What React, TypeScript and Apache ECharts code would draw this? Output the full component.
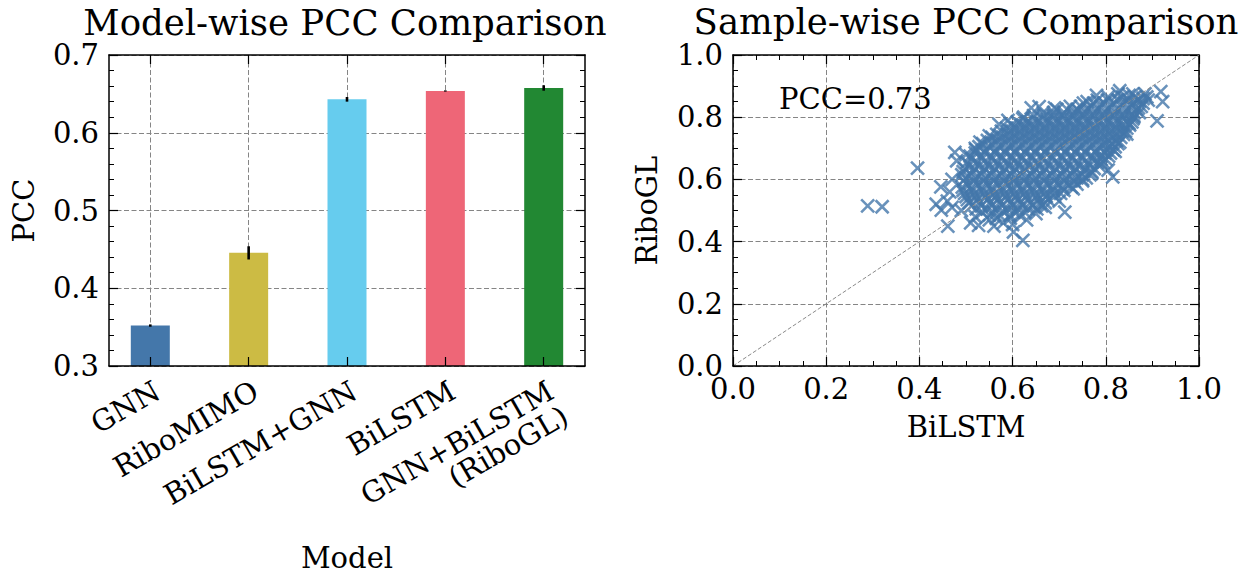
import React, { useEffect, useRef } from "react";
import * as echarts from "echarts";

const FONT = "'DejaVu Serif', serif";

// ---- Left panel: model-wise PCC ----
const modelNames = ["GNN", "RiboMIMO", "BiLSTM+GNN", "BiLSTM", "GNN+BiLSTM\n(RiboGL)"];
const modelPcc = [0.352, 0.4455, 0.643, 0.6537, 0.6576];
const modelErr = [0.0015, 0.0085, 0.003, 0.0008, 0.0035];
const barColors = ["#4477AA", "#CCBB44", "#66CCEE", "#EE6677", "#228833"];
const modelPositions = [0, 1, 2, 3, 4];

// ---- Right panel: sample-wise scatter (BiLSTM vs RiboGL) ----
// dense core, read row by row: [RiboGL value, BiLSTM values]
const cloudRows: [number, number[]][] = [
  [0.475, [0.565, 0.595]],
  [0.485, [0.55, 0.572, 0.594, 0.615]],
  [0.495, [0.535, 0.558, 0.581, 0.604, 0.626]],
  [0.505, [0.522, 0.545, 0.567, 0.59, 0.612, 0.634, 0.652]],
  [0.515, [0.512, 0.533, 0.556, 0.578, 0.601, 0.622, 0.644, 0.662]],
  [0.525, [0.507, 0.528, 0.551, 0.572, 0.595, 0.616, 0.638, 0.659, 0.67]],
  [0.535, [0.503, 0.524, 0.546, 0.567, 0.589, 0.611, 0.632, 0.654, 0.676]],
  [0.545, [0.5, 0.521, 0.543, 0.564, 0.586, 0.607, 0.629, 0.651, 0.672, 0.69]],
  [0.555, [0.497, 0.518, 0.539, 0.561, 0.583, 0.604, 0.626, 0.648, 0.669, 0.691, 0.703]],
  [0.565, [0.494, 0.515, 0.537, 0.558, 0.58, 0.601, 0.623, 0.645, 0.666, 0.688, 0.71]],
  [0.575, [0.492, 0.512, 0.534, 0.556, 0.577, 0.599, 0.621, 0.642, 0.664, 0.686, 0.707, 0.726]],
  [0.585, [0.502, 0.523, 0.545, 0.567, 0.588, 0.61, 0.632, 0.653, 0.675, 0.697, 0.718, 0.738]],
  [0.595, [0.494, 0.516, 0.537, 0.559, 0.581, 0.602, 0.624, 0.645, 0.667, 0.689, 0.71, 0.732, 0.75]],
  [0.605, [0.5, 0.522, 0.543, 0.565, 0.587, 0.608, 0.63, 0.651, 0.673, 0.695, 0.716, 0.738, 0.758]],
  [0.615, [0.491, 0.511, 0.533, 0.554, 0.576, 0.598, 0.619, 0.641, 0.662, 0.684, 0.706, 0.727, 0.749, 0.766]],
  [0.625, [0.494, 0.515, 0.537, 0.558, 0.58, 0.602, 0.623, 0.645, 0.666, 0.688, 0.71, 0.731, 0.753, 0.77]],
  [0.635, [0.497, 0.518, 0.54, 0.561, 0.583, 0.605, 0.626, 0.648, 0.669, 0.691, 0.713, 0.734, 0.756, 0.775]],
  [0.645, [0.507, 0.529, 0.55, 0.572, 0.594, 0.615, 0.637, 0.658, 0.68, 0.702, 0.723, 0.745, 0.766, 0.785]],
  [0.655, [0.502, 0.523, 0.545, 0.566, 0.588, 0.61, 0.631, 0.653, 0.674, 0.696, 0.718, 0.739, 0.761, 0.782, 0.795]],
  [0.665, [0.512, 0.534, 0.556, 0.577, 0.599, 0.62, 0.642, 0.664, 0.685, 0.707, 0.728, 0.75, 0.772, 0.79, 0.8]],
  [0.675, [0.509, 0.531, 0.552, 0.574, 0.596, 0.617, 0.639, 0.66, 0.682, 0.704, 0.725, 0.747, 0.768, 0.79, 0.806]],
  [0.685, [0.52, 0.541, 0.563, 0.585, 0.606, 0.628, 0.649, 0.671, 0.693, 0.714, 0.736, 0.757, 0.779, 0.798, 0.81]],
  [0.695, [0.521, 0.542, 0.564, 0.585, 0.607, 0.629, 0.65, 0.672, 0.693, 0.715, 0.737, 0.758, 0.78, 0.801, 0.816]],
  [0.705, [0.528, 0.55, 0.571, 0.593, 0.614, 0.636, 0.658, 0.679, 0.701, 0.722, 0.744, 0.766, 0.787, 0.806, 0.82]],
  [0.715, [0.536, 0.557, 0.579, 0.6, 0.622, 0.644, 0.665, 0.687, 0.708, 0.73, 0.752, 0.773, 0.795, 0.813, 0.826]],
  [0.725, [0.546, 0.567, 0.589, 0.611, 0.632, 0.654, 0.675, 0.697, 0.719, 0.74, 0.762, 0.783, 0.805, 0.823]],
  [0.735, [0.556, 0.577, 0.599, 0.62, 0.642, 0.664, 0.685, 0.707, 0.728, 0.75, 0.772, 0.793, 0.815, 0.832]],
  [0.745, [0.566, 0.588, 0.609, 0.631, 0.652, 0.674, 0.696, 0.717, 0.739, 0.76, 0.782, 0.804, 0.824, 0.838]],
  [0.755, [0.576, 0.597, 0.619, 0.64, 0.662, 0.684, 0.705, 0.727, 0.748, 0.77, 0.792, 0.813, 0.835, 0.842]],
  [0.765, [0.587, 0.608, 0.63, 0.651, 0.673, 0.695, 0.716, 0.738, 0.759, 0.781, 0.803, 0.824, 0.845]],
  [0.775, [0.598, 0.619, 0.641, 0.662, 0.684, 0.706, 0.727, 0.749, 0.77, 0.792, 0.814, 0.835, 0.851]],
  [0.785, [0.61, 0.631, 0.653, 0.675, 0.696, 0.718, 0.739, 0.761, 0.783, 0.804, 0.826, 0.846, 0.856]],
  [0.795, [0.622, 0.643, 0.665, 0.687, 0.708, 0.73, 0.751, 0.773, 0.795, 0.816, 0.838, 0.858]],
  [0.805, [0.645, 0.667, 0.688, 0.71, 0.731, 0.753, 0.775, 0.796, 0.818, 0.839, 0.86]],
  [0.815, [0.666, 0.688, 0.71, 0.731, 0.753, 0.774, 0.796, 0.818, 0.839, 0.861, 0.872]],
  [0.825, [0.695, 0.717, 0.738, 0.76, 0.782, 0.803, 0.825, 0.846, 0.866]],
  [0.835, [0.724, 0.746, 0.768, 0.789, 0.811, 0.833, 0.854, 0.876]],
  [0.845, [0.752, 0.774, 0.796, 0.817, 0.839, 0.86, 0.88]],
  [0.855, [0.782, 0.804, 0.826, 0.848, 0.869, 0.891]],
  [0.865, [0.805, 0.836, 0.862, 0.888]],
  [0.875, [0.826, 0.858, 0.884]],
];
// scattered points around the core: [BiLSTM, RiboGL]
const outliers: [number, number][] = [
  [0.289, 0.515], [0.32, 0.512], [0.396, 0.636], [0.571, 0.777], [0.622, 0.404],
  [0.602, 0.431], [0.712, 0.495], [0.527, 0.452], [0.461, 0.45], [0.446, 0.576],
  [0.476, 0.687], [0.447, 0.501], [0.83, 0.885], [0.91, 0.788], [0.918, 0.882],
  [0.922, 0.85], [0.815, 0.608], [0.805, 0.63], [0.845, 0.746], [0.741, 0.823],
  [0.657, 0.834], [0.624, 0.8], [0.88, 0.86], [0.436, 0.52], [0.46, 0.53],
  [0.465, 0.56], [0.47, 0.6], [0.48, 0.66], [0.5, 0.68], [0.52, 0.7],
  [0.53, 0.72], [0.55, 0.74], [0.59, 0.79], [0.64, 0.83], [0.69, 0.83],
  [0.76, 0.85], [0.78, 0.87], [0.85, 0.87], [0.87, 0.83], [0.86, 0.8],
  [0.85, 0.78], [0.83, 0.72], [0.82, 0.69], [0.79, 0.65], [0.77, 0.62],
  [0.75, 0.6], [0.73, 0.57], [0.7, 0.53], [0.67, 0.51], [0.65, 0.49],
  [0.63, 0.47], [0.58, 0.46], [0.55, 0.47], [0.52, 0.48], [0.49, 0.5],
  [0.47, 0.51], [0.51, 0.46], [0.6, 0.455], [0.56, 0.45],
];
const diagonal: [number, number][] = [[0, 0], [1, 1]];
const samplePccText = "PCC=0.73";

const titles = ["Model-wise PCC Comparison", "Sample-wise PCC Comparison"];

export default function App() {
  const ref = useRef<HTMLDivElement>(null);

  useEffect(() => {
    document.body.style.margin = "0";
    if (!ref.current) return;
    const chart = echarts.init(ref.current, undefined, { renderer: "svg" });

    const scatterData: [number, number][] = [];
    cloudRows.forEach(([y, xs]) => xs.forEach((x) => scatterData.push([x, y])));
    outliers.forEach((p) => scatterData.push(p));

    const tickFont = { fontFamily: FONT, fontSize: 29, color: "#000" };
    const axisLine = { show: true, onZero: false, lineStyle: { color: "#000", width: 1.5 } };
    const gridLine = { show: true, lineStyle: { color: "#858585", width: 1, type: [5, 2.5] as any } };
    const majorTick = { show: true, inside: true, length: 9, lineStyle: { color: "#000", width: 1.2 } };
    const minorTick = (n: number) => ({ show: true, splitNumber: n, length: 5, lineStyle: { color: "#000", width: 1 } });
    const fmt1 = (v: number) => v.toFixed(1);
    const titleStyle = { fontFamily: FONT, fontSize: 35.5, fontWeight: "normal", color: "#000", lineHeight: 36 };

    chart.setOption({
      animation: false,
      backgroundColor: "#fff",
      title: [
        { text: titles[0], left: 345, top: 4, padding: 0, textAlign: "center", textStyle: titleStyle },
        { text: titles[1], left: 966, top: 3, padding: 0, textAlign: "center", textStyle: titleStyle },
      ],
      grid: [
        { left: 109, top: 55, width: 476, height: 311, containLabel: false, outerBoundsMode: "none" },
        { left: 733, top: 55, width: 466, height: 311, containLabel: false, outerBoundsMode: "none" },
      ],
      xAxis: [
        {
          type: "value", gridIndex: 0, position: "bottom", min: -0.42, max: 4.42, z: 10,
          axisLine,
          axisTick: { ...majorTick, customValues: modelPositions },
          axisLabel: {
            ...tickFont, customValues: modelPositions, rotate: 30, align: "right", verticalAlign: "top", margin: 10,
            formatter: (v: number) => modelNames[Math.round(v)] ?? "",
          },
          splitLine: { show: false },
          name: "Model", nameLocation: "middle", nameGap: 177,
          nameTextStyle: { fontFamily: FONT, fontSize: 29, color: "#000", verticalAlign: "top", lineHeight: 30 },
        },
        {
          type: "value", gridIndex: 0, position: "top", min: -0.42, max: 4.42,
          axisLine,
          axisTick: { ...majorTick, customValues: modelPositions },
          axisLabel: { show: false, customValues: modelPositions },
          splitLine: gridLine,
        },
        {
          type: "value", gridIndex: 1, position: "bottom", min: 0, max: 1, interval: 0.2, z: 10,
          axisLine, axisTick: majorTick, minorTick: minorTick(4),
          axisLabel: { ...tickFont, margin: 8, formatter: fmt1 },
          splitLine: { show: false },
          name: "BiLSTM", nameLocation: "middle", nameGap: 46,
          nameTextStyle: { fontFamily: FONT, fontSize: 29, color: "#000", verticalAlign: "top" },
        },
        {
          type: "value", gridIndex: 1, position: "top", min: 0, max: 1, interval: 0.2,
          axisLine, axisTick: majorTick, minorTick: minorTick(4),
          axisLabel: { show: false },
          splitLine: gridLine,
        },
      ],
      yAxis: [
        {
          type: "value", gridIndex: 0, position: "left", min: 0.3, max: 0.7, interval: 0.1, z: 10,
          axisLine, axisTick: majorTick, minorTick: minorTick(5),
          axisLabel: { ...tickFont, margin: 10, formatter: fmt1 },
          splitLine: { show: false },
          name: "PCC", nameLocation: "middle", nameGap: 71,
          nameTextStyle: { fontFamily: FONT, fontSize: 29, color: "#000" },
        },
        {
          type: "value", gridIndex: 0, position: "right", min: 0.3, max: 0.7, interval: 0.1,
          axisLine, axisTick: majorTick, minorTick: minorTick(5),
          axisLabel: { show: false },
          splitLine: gridLine,
        },
        {
          type: "value", gridIndex: 1, position: "left", min: 0, max: 1, interval: 0.2, z: 10,
          axisLine, axisTick: majorTick, minorTick: minorTick(4),
          axisLabel: { ...tickFont, margin: 10, formatter: fmt1 },
          splitLine: { show: false },
          name: "RiboGL", nameLocation: "middle", nameGap: 72,
          nameTextStyle: { fontFamily: FONT, fontSize: 29, color: "#000" },
        },
        {
          type: "value", gridIndex: 1, position: "right", min: 0, max: 1, interval: 0.2,
          axisLine, axisTick: majorTick, minorTick: minorTick(4),
          axisLabel: { show: false },
          splitLine: gridLine,
        },
      ],
      series: [
        {
          type: "bar", xAxisIndex: 0, yAxisIndex: 0, barWidth: 39, clip: true,
          data: modelPcc.map((v, i) => ({ value: [modelPositions[i], v], itemStyle: { color: barColors[i] } })),
          emphasis: { disabled: true },
        },
        {
          type: "custom", xAxisIndex: 0, yAxisIndex: 0, z: 4,
          data: modelPcc.map((v, i) => [modelPositions[i], v - modelErr[i], v + modelErr[i]]),
          encode: { x: 0, y: [1, 2] },
          renderItem: (_p: any, api: any) => {
            const a = api.coord([api.value(0), api.value(1)]);
            const b = api.coord([api.value(0), api.value(2)]);
            return { type: "line", shape: { x1: a[0], y1: a[1], x2: b[0], y2: b[1] }, style: { stroke: "#000", lineWidth: 2.6 } };
          },
        },
        {
          type: "scatter", xAxisIndex: 2, yAxisIndex: 2,
          data: scatterData,
          symbol: "path://M0,0L10,10M10,0L0,10",
          symbolSize: 13,
          itemStyle: { color: "#4477AA", borderColor: "#4477AA", borderWidth: 2.6 },
          emphasis: { disabled: true },
          z: 3,
        },
        {
          type: "line", xAxisIndex: 2, yAxisIndex: 2,
          data: diagonal, showSymbol: false, symbol: "none",
          lineStyle: { color: "#8a8a8a", width: 1, type: [4, 2] },
          emphasis: { disabled: true },
          z: 5,
        },
      ],
      graphic: [
        {
          type: "text", left: 779, top: 84, z: 20,
          style: { text: samplePccText, font: `29px ${FONT}`, fill: "#000" },
        },
      ],
    });

    return () => chart.dispose();
  }, []);

  return <div ref={ref} style={{ width: 1243, height: 575 }} />;
}
